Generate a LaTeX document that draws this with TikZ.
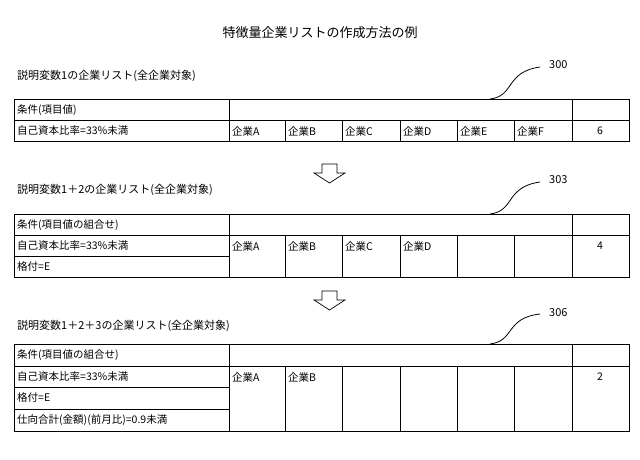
\documentclass[tikz,border=0pt]{standalone}
\usepackage{fontspec}
\setmainfont{Noto Sans CJK JP}
\begin{document}
\begin{tikzpicture}[x=1pt,y=-1pt,
  cell/.style={anchor=west,inner sep=0pt,font=\fontsize{10.5}{12}\selectfont},
  cnt/.style={anchor=center,inner sep=0pt,font=\fontsize{10.5}{12}\selectfont},
  sec/.style={anchor=west,inner sep=0pt,font=\fontsize{11}{13}\selectfont},
  lbl/.style={anchor=west,inner sep=0pt,font=\fontsize{11}{13}\selectfont},
  grid/.style={line width=0.5pt},
  outer/.style={line width=0.9pt},
  lead/.style={line width=0.8pt},
  barrow/.style={line width=0.7pt,fill=white}]
\useasboundingbox (0,0) rectangle (640,460);
\node[inner sep=0pt,font=\fontsize{13}{15}\selectfont] (title) at (320,33) {特徴量企業リストの作成方法の例};
% ---------- table 1
\node[sec] (s1) at (17,76) {説明変数1の企業リスト(全企業対象)};
\draw[grid] (14,120) -- (629,120);
\draw[grid] (229,99) -- (229,141) (572,99) -- (572,141);
\foreach \x in {285,342,400,457,514} \draw[grid] (\x,120) -- (\x,141);
\draw[outer] (14,99) rectangle (629,141);
\node[cell] (t1h) at (17,110) {条件(項目値)};
\node[cell] (t1r) at (17,131) {自己資本比率=33\%未満};
\foreach \x/\n in {232/A,288/B,345/C,403/D,460/E,517/F}
  \node[cell] (t1\n) at (\x,131) {企業\n};
\node[cnt] (t1c) at (600,131) {6};
\coordinate (p1) at (490,99);
\node[lbl] (l1) at (549,65) {300};
\draw[lead] (p1) .. controls (515,96) and (505,72) .. (540,67);
% arrow 1
\draw[barrow] (322,164) -- (337,164) -- (337,173) -- (345,173) -- (329.5,183) -- (314,173) -- (322,173) -- cycle;
% ---------- table 2
\node[sec] (s2) at (17,190) {説明変数1＋2の企業リスト(全企業対象)};
\draw[grid] (14,235) -- (629,235) (14,256) -- (229,256);
\draw[grid] (229,214) -- (229,277) (572,214) -- (572,277);
\foreach \x in {285,342,400,457,514} \draw[grid] (\x,235) -- (\x,277);
\draw[outer] (14,214) rectangle (629,277);
\node[cell] (t2h) at (17,225) {条件(項目値の組合せ)};
\node[cell] (t2r) at (17,246) {自己資本比率=33\%未満};
\node[cell] (t2s) at (17,267) {格付=E};
\foreach \x/\n in {232/A,288/B,345/C,403/D}
  \node[cell] (t2\n) at (\x,246) {企業\n};
\node[cnt] (t2c) at (600,246) {4};
\coordinate (p2) at (490,214);
\node[lbl] (l2) at (549,180) {303};
\draw[lead] (p2) .. controls (515,211) and (505,187) .. (540,182);
% arrow 2
\draw[barrow] (322,291) -- (337,291) -- (337,300) -- (345,300) -- (329.5,310) -- (314,300) -- (322,300) -- cycle;
% ---------- table 3
\node[sec] (s3) at (17,326) {説明変数1＋2＋3の企業リスト(全企業対象)};
\draw[grid] (14,366) -- (629,366) (14,387) -- (229,387) (14,409) -- (229,409);
\draw[grid] (229,344) -- (229,431) (572,344) -- (572,431);
\foreach \x in {285,342,400,457,514} \draw[grid] (\x,366) -- (\x,431);
\draw[outer] (14,344) rectangle (629,431);
\node[cell] (t3h) at (17,355) {条件(項目値の組合せ)};
\node[cell] (t3r) at (17,377) {自己資本比率=33\%未満};
\node[cell] (t3s) at (17,398) {格付=E};
\node[cell] (t3u) at (17,420) {仕向合計(金額)(前月比)=0.9未満};
\foreach \x/\n in {232/A,288/B}
  \node[cell] (t3\n) at (\x,377) {企業\n};
\node[cnt] (t3c) at (600,377) {2};
\coordinate (p3) at (490,344);
\node[lbl] (l3) at (549,313) {306};
\draw[lead] (p3) .. controls (515,341) and (505,318) .. (540,314);
\end{tikzpicture}
\end{document}
